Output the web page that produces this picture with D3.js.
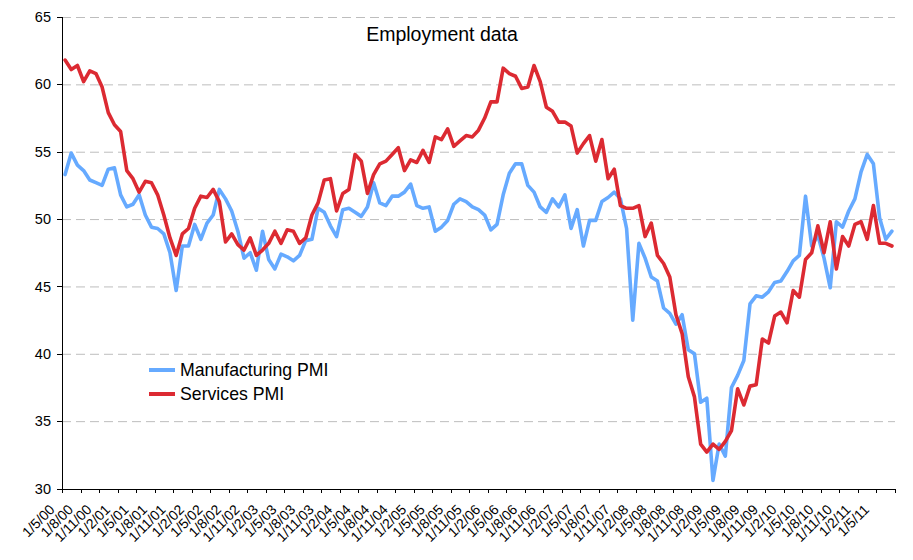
<!DOCTYPE html>
<html>
<head>
<meta charset="utf-8">
<script src="https://cdn.jsdelivr.net/npm/d3@7"></script>
<style>
  html, body { margin: 0; padding: 0; background: #fff; }
  svg { display: block; font-family: "Liberation Sans", Arial, Helvetica, sans-serif; }
  .grid line { stroke: #bdbdbd; stroke-width: 1; stroke-dasharray: 9,5; }
  .grid .domain { display: none; }
  .axis path, .axis line { stroke: #000; stroke-width: 1; shape-rendering: crispEdges; }
  .axis text { fill: #000; }
  .series { fill: none; stroke-width: 3.6; stroke-linejoin: round; stroke-linecap: round; }
</style>
</head>
<body>
<svg id="chart" width="913" height="560"></svg>
<script>
// monthly readings, May 2000 .. Jul 2011
const manufacturing = [
  53.3, 54.9, 54.0, 53.6, 52.9, 52.7, 52.5, 53.7, 53.8, 51.8, 50.9, 51.1,
  51.8, 50.3, 49.4, 49.3, 48.9, 47.5, 44.7, 48.0, 48.0, 49.6, 48.5, 49.7,
  50.3, 52.2, 51.5, 50.6, 49.1, 47.1, 47.5, 46.2, 49.1, 47.0, 46.3, 47.4,
  47.2, 46.9, 47.3, 48.4, 48.5, 50.8, 50.5, 49.5, 48.7, 50.7, 50.8, 50.5,
  50.2, 50.9, 52.7, 51.2, 51.0, 51.7, 51.7, 52.0, 52.6, 51.0, 50.8, 50.9,
  49.1, 49.4, 49.9, 51.1, 51.5, 51.3, 50.9, 50.7, 50.3, 49.2, 49.6, 51.8,
  53.4, 54.1, 54.1, 52.5, 52.0, 50.9, 50.5, 51.5, 50.9, 51.8, 49.3, 50.7,
  48.0, 49.9, 49.9, 51.3, 51.6, 52.0, 51.5, 49.3, 42.5, 48.2, 47.1, 45.7,
  45.4, 43.4, 43.0, 42.2, 42.9, 40.3, 40.0, 36.4, 36.7, 30.6, 33.3, 32.4,
  37.5, 38.4, 39.5, 43.7, 44.3, 44.2, 44.6, 45.3, 45.4, 46.1, 46.9, 47.3,
  51.7, 48.0, 48.8, 47.1, 44.9, 49.8, 49.4, 50.6, 51.5, 53.5, 54.8, 54.1,
  50.1, 48.5, 49.1
];

const services = [
  61.8, 61.1, 61.4, 60.2, 61.0, 60.8, 59.8, 57.9, 57.0, 56.5, 53.6, 53.0,
  52.0, 52.8, 52.7, 51.8, 50.3, 48.6, 47.3, 48.9, 49.3, 50.8, 51.7, 51.6,
  52.2, 51.3, 48.3, 48.9, 48.1, 47.7, 48.6, 47.3, 47.7, 48.2, 49.1, 48.2,
  49.2, 49.1, 48.2, 48.6, 50.3, 51.2, 52.9, 53.0, 50.6, 51.9, 52.2, 54.8,
  54.3, 51.9, 53.3, 54.1, 54.3, 54.8, 55.3, 53.6, 54.4, 54.2, 55.1, 54.2,
  56.1, 55.9, 56.7, 55.4, 55.8, 56.2, 56.1, 56.6, 57.5, 58.7, 58.7, 61.2,
  60.8, 60.6, 59.7, 59.8, 61.4, 60.2, 58.3, 58.0, 57.2, 57.2, 56.9, 54.9,
  55.6, 56.2, 54.3, 55.9, 53.0, 53.7, 51.0, 50.8, 50.8, 51.0, 48.7, 49.7,
  47.3, 46.7, 45.7, 42.9, 41.5, 38.3, 36.8, 33.3, 32.7, 33.3, 32.9, 33.5,
  34.3, 37.4, 36.2, 37.6, 37.7, 41.1, 40.8, 42.8, 43.1, 42.3, 44.7, 44.2,
  47.0, 47.5, 49.5, 47.5, 49.8, 46.3, 48.7, 48.0, 49.6, 49.8, 48.5, 51.0,
  48.2, 48.2, 48.0
];

// one label every third month
const tickLabels = [
  "1/5/00", "1/8/00", "1/11/00",
  "1/2/01", "1/5/01", "1/8/01", "1/11/01",
  "1/2/02", "1/5/02", "1/8/02", "1/11/02",
  "1/2/03", "1/5/03", "1/8/03", "1/11/03",
  "1/2/04", "1/5/04", "1/8/04", "1/11/04",
  "1/2/05", "1/5/05", "1/8/05", "1/11/05",
  "1/2/06", "1/5/06", "1/8/06", "1/11/06",
  "1/2/07", "1/5/07", "1/8/07", "1/11/07",
  "1/2/08", "1/5/08", "1/8/08", "1/11/08",
  "1/2/09", "1/5/09", "1/8/09", "1/11/09",
  "1/2/10", "1/5/10", "1/8/10", "1/11/10",
  "1/2/11", "1/5/11"
];

const yTicks = [30, 35, 40, 45, 50, 55, 60, 65];

const seriesNames = ["Manufacturing PMI", "Services PMI"];
const seriesColors = ["#66aaff", "#dc2a32"];

const PLOT = { left: 62, right: 895, top: 17, bottom: 488.5 };
const LABEL_STEP = 3;

const svg = d3.select("#chart");

const xScale = d3.scaleLinear()
  .domain([0, manufacturing.length])
  .range([PLOT.left, PLOT.right]);

const yScale = d3.scaleLinear()
  .domain([30, 65])
  .range([PLOT.bottom, PLOT.top]);

// dashed gridlines
svg.append("g")
  .attr("class", "grid")
  .attr("transform", `translate(${PLOT.left},0)`)
  .call(
    d3.axisLeft(yScale)
      .tickValues(yTicks.slice(1))
      .tickSize(-(PLOT.right - PLOT.left))
      .tickFormat("")
  );

const seriesData = [manufacturing, services];

const line = d3.line()
  .x((d, i) => xScale(i + 0.5))
  .y(d => yScale(d));

svg.append("g")
  .selectAll("path")
  .data(seriesData)
  .join("path")
  .attr("class", "series")
  .attr("stroke", (d, i) => seriesColors[i])
  .attr("d", d => line(d));

// y axis
svg.append("g")
  .attr("class", "axis y-axis")
  .attr("transform", `translate(${PLOT.left},0)`)
  .call(
    d3.axisLeft(yScale)
      .tickValues(yTicks)
      .tickSize(5)
      .tickPadding(6)
  )
  .call(g => g.selectAll("text").attr("font-size", 14.5).attr("font-family", null));

// x axis: ticks between quarters, rotated date labels
const tickPos = d3.range(0, manufacturing.length + 1, LABEL_STEP);

svg.append("g")
  .attr("class", "axis x-axis")
  .attr("transform", `translate(0,${PLOT.bottom})`)
  .call(
    d3.axisBottom(xScale)
      .tickValues(tickPos)
      .tickSizeInner(4)
      .tickSizeOuter(0)
      .tickFormat((d, i) => tickLabels[i] || "")
  )
  .call(g => g.selectAll("text")
    .attr("font-size", 14)
    .attr("font-family", null)
    .attr("text-anchor", "end")
    .attr("x", -7)
    .attr("y", 22)
    .attr("dy", null)
    .attr("transform", "rotate(-45,-7,22)"));

// title
svg.append("text")
  .attr("x", 442)
  .attr("y", 40.5)
  .attr("text-anchor", "middle")
  .attr("font-size", 19.5)
  .text("Employment data");

// legend
const legend = svg.append("g")
  .attr("transform", "translate(149,370)");

const item = legend.selectAll("g")
  .data(seriesNames)
  .join("g")
  .attr("transform", (d, i) => `translate(0,${i * 24})`);

item.append("line")
  .attr("x1", 0).attr("x2", 26)
  .attr("y1", 0).attr("y2", 0)
  .attr("stroke", (d, i) => seriesColors[i])
  .attr("stroke-width", 4);

item.append("text")
  .attr("x", 31)
  .attr("y", 6.2)
  .attr("font-size", 17.7)
  .text(d => d);
</script>
</body>
</html>
